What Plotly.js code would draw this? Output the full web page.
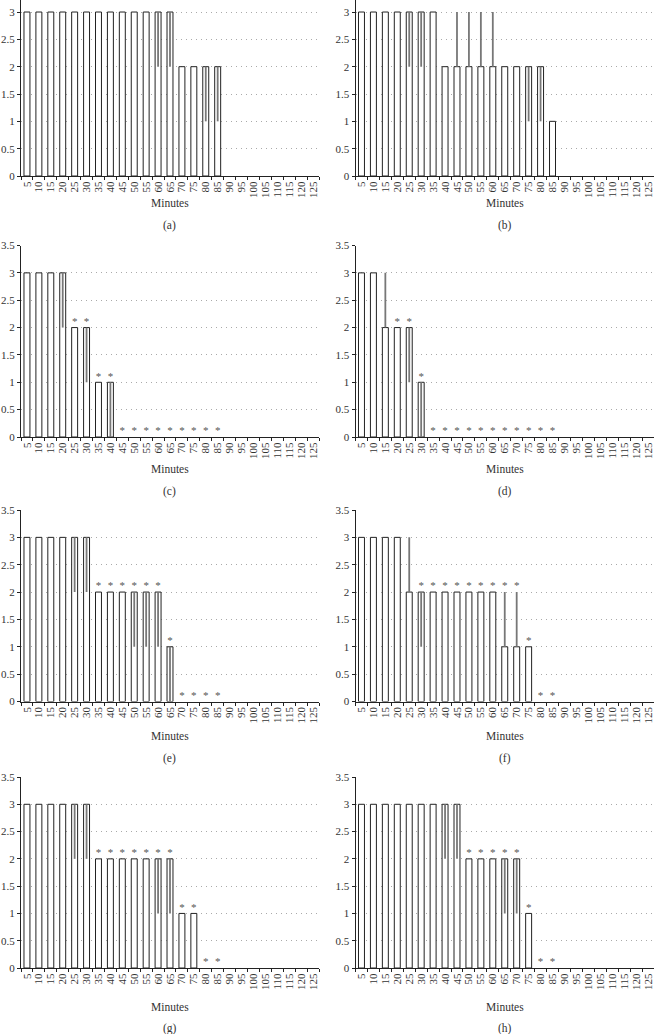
<!DOCTYPE html>
<html>
<head>
<meta charset="utf-8">
<script src="https://cdn.plot.ly/plotly-3.0.1.min.js"></script>
<style>html,body{margin:0;padding:0;background:#fff;}#chart{width:654px;height:1034px;}</style>
</head>
<body>
<div id="chart"></div>
<script>
// Categories (minutes)
const minutes = ['5','10','15','20','25','30','35','40','45','50','55','60','65','70','75','80','85','90','95','100','105','110','115','120','125'];
const yTicks = [0, 0.5, 1, 1.5, 2, 2.5, 3, 3.5];
const panelLabels = ['(a)','(b)','(c)','(d)','(e)','(f)','(g)','(h)'];

// Panel (a)
const valsA  = [3,3,3,3,3,3,3,3,3,3,3,3,3,2,2,2,2,0,0,0,0,0,0,0,0];
const plusA  = [0,0,0,0,0,0,0,0,0,0,0,0,0,0,0,0,0,0,0,0,0,0,0,0,0];
const minusA = [0,0,0,0,0,0,0,0,0,0,0,1,1,0,0,1,1,0,0,0,0,0,0,0,0];
const starA  = [0,0,0,0,0,0,0,0,0,0,0,0,0,0,0,0,0,0,0,0,0,0,0,0,0];
// Panel (b)
const valsB  = [3,3,3,3,3,3,3,2,2,2,2,2,2,2,2,2,1,0,0,0,0,0,0,0,0];
const plusB  = [0,0,0,0,0,0,0,0,1,1,1,1,0,0,0,0,0,0,0,0,0,0,0,0,0];
const minusB = [0,0,0,0,1,1,0,0,0,0,0,0,0,0,1,1,0,0,0,0,0,0,0,0,0];
const starB  = [0,0,0,0,0,0,0,0,0,0,0,0,0,0,0,0,0,0,0,0,0,0,0,0,0];
// Panel (c)
const valsC  = [3,3,3,3,2,2,1,1,0,0,0,0,0,0,0,0,0,0,0,0,0,0,0,0,0];
const plusC  = [0,0,0,0,0,0,0,0,0,0,0,0,0,0,0,0,0,0,0,0,0,0,0,0,0];
const minusC = [0,0,0,1,0,1,0,1,0,0,0,0,0,0,0,0,0,0,0,0,0,0,0,0,0];
const starC  = [0,0,0,0,1,1,1,1,1,1,1,1,1,1,1,1,1,0,0,0,0,0,0,0,0];
// Panel (d)
const valsD  = [3,3,2,2,2,1,0,0,0,0,0,0,0,0,0,0,0,0,0,0,0,0,0,0,0];
const plusD  = [0,0,1,0,0,0,0,0,0,0,0,0,0,0,0,0,0,0,0,0,0,0,0,0,0];
const minusD = [0,0,0,0,1,1,0,0,0,0,0,0,0,0,0,0,0,0,0,0,0,0,0,0,0];
const starD  = [0,0,0,1,1,1,1,1,1,1,1,1,1,1,1,1,1,0,0,0,0,0,0,0,0];
// Panel (e)
const valsE  = [3,3,3,3,3,3,2,2,2,2,2,2,1,0,0,0,0,0,0,0,0,0,0,0,0];
const plusE  = [0,0,0,0,0,0,0,0,0,0,0,0,0,0,0,0,0,0,0,0,0,0,0,0,0];
const minusE = [0,0,0,0,1,1,0,0,0,1,1,1,1,0,0,0,0,0,0,0,0,0,0,0,0];
const starE  = [0,0,0,0,0,0,1,1,1,1,1,1,1,1,1,1,1,0,0,0,0,0,0,0,0];
// Panel (f)
const valsF  = [3,3,3,3,2,2,2,2,2,2,2,2,1,1,1,0,0,0,0,0,0,0,0,0,0];
const plusF  = [0,0,0,0,1,0,0,0,0,0,0,0,1,1,0,0,0,0,0,0,0,0,0,0,0];
const minusF = [0,0,0,0,0,1,0,0,0,0,0,0,0,0,0,0,0,0,0,0,0,0,0,0,0];
const starF  = [0,0,0,0,0,1,1,1,1,1,1,1,1,1,1,1,1,0,0,0,0,0,0,0,0];
// Panel (g)
const valsG  = [3,3,3,3,3,3,2,2,2,2,2,2,2,1,1,0,0,0,0,0,0,0,0,0,0];
const plusG  = [0,0,0,0,0,0,0,0,0,0,0,0,0,0,0,0,0,0,0,0,0,0,0,0,0];
const minusG = [0,0,0,0,1,1,0,0,0,0,0,1,1,0,0,0,0,0,0,0,0,0,0,0,0];
const starG  = [0,0,0,0,0,0,1,1,1,1,1,1,1,1,1,1,1,0,0,0,0,0,0,0,0];
// Panel (h)
const valsH  = [3,3,3,3,3,3,3,3,3,2,2,2,2,2,1,0,0,0,0,0,0,0,0,0,0];
const plusH  = [0,0,0,0,0,0,0,0,0,0,0,0,0,0,0,0,0,0,0,0,0,0,0,0,0];
const minusH = [0,0,0,0,0,0,0,1,1,0,0,0,1,1,0,0,0,0,0,0,0,0,0,0,0];
const starH  = [0,0,0,0,0,0,0,0,0,1,1,1,1,1,1,1,1,0,0,0,0,0,0,0,0];

const panels = [
  [valsA, plusA, minusA, starA],
  [valsB, plusB, minusB, starB],
  [valsC, plusC, minusC, starC],
  [valsD, plusD, minusD, starD],
  [valsE, plusE, minusE, starE],
  [valsF, plusF, minusF, starF],
  [valsG, plusG, minusG, starG],
  [valsH, plusH, minusH, starH]
];

const W = 654, H = 1034;
const SERIF = 'Liberation Serif, Times New Roman, serif';
const TXT = '#333';
// pixel layout of plot areas
const colX = [[21, 319], [355.5, 654]];
const rowY = [[0, 176], [245.5, 437], [510, 701.5], [777, 968]];
const rowTop = [3.22, 3.5, 3.5, 3.5];
const titleY = [[203, 225], [468.5, 491.5], [735.5, 758], [1007, 1028]];

const traces = [];
const layout = {
  width: W, height: H,
  margin: {l: 0, r: 0, t: 0, b: 0},
  paper_bgcolor: '#fff', plot_bgcolor: '#fff',
  showlegend: false,
  font: {family: SERIF, color: TXT, size: 10},
  annotations: []
};

panels.forEach((p, i) => {
  const [vals, plus, minus, star] = p;
  const row = Math.floor(i / 2), col = i % 2;
  const n = i + 1;
  const xa = 'x' + (n === 1 ? '' : n), ya = 'y' + (n === 1 ? '' : n);
  traces.push({
    type: 'bar', x: minutes, y: vals, xaxis: xa, yaxis: ya,
    marker: {color: '#fff', line: {color: '#222', width: vals.map(v => v > 0 ? 1 : 0)}},
    error_y: {type: 'data', symmetric: false, array: plus, arrayminus: minus,
              width: 0, thickness: 1.8, color: '#777'},
    hoverinfo: 'skip'
  });
  const sx = [], sy = [];
  star.forEach((s, k) => { if (s) { sx.push(minutes[k]); sy.push(vals[k] + plus[k]); } });
  traces.push({
    type: 'scatter', mode: 'text', x: sx, y: sy, text: sx.map(() => '*'),
    textposition: 'top center', textfont: {family: SERIF, size: 11, color: '#555'},
    xaxis: xa, yaxis: ya, cliponaxis: false, hoverinfo: 'skip'
  });
  const xd = [colX[col][0] / W, colX[col][1] / W];
  const yd = [1 - rowY[row][1] / H, 1 - rowY[row][0] / H];
  layout['xaxis' + (n === 1 ? '' : n)] = {
    domain: xd, anchor: ya, type: 'category', range: [-0.5, 24.5],
    tickmode: 'linear', dtick: 1, tick0: 0,
    tickangle: -90, tickson: 'boundaries', ticks: 'outside', ticklen: 3, tickcolor: '#222',
    showline: true, linecolor: '#222', linewidth: 1, showgrid: false,
    tickfont: {family: SERIF, size: 11, color: TXT}, fixedrange: true
  };
  layout['yaxis' + (n === 1 ? '' : n)] = {
    domain: yd, anchor: xa, range: [0, rowTop[row]],
    tickvals: yTicks, ticks: 'outside', ticklen: 3, tickcolor: '#222',
    showline: true, linecolor: '#222', linewidth: 1,
    showgrid: true, gridcolor: '#aaa', griddash: '1px,4px', gridwidth: 1,
    zeroline: false, tickfont: {family: SERIF, size: 11, color: TXT}, fixedrange: true
  };
  const cx = (colX[col][0] + colX[col][1]) / 2 / W;
  layout.annotations.push({
    text: 'Minutes', xref: 'paper', yref: 'paper', x: cx, y: 1 - titleY[row][0] / H,
    xanchor: 'center', yanchor: 'middle', showarrow: false,
    font: {family: SERIF, size: 11.5, color: TXT}
  });
  layout.annotations.push({
    text: panelLabels[i], xref: 'paper', yref: 'paper', x: cx, y: 1 - titleY[row][1] / H,
    xanchor: 'center', yanchor: 'middle', showarrow: false,
    font: {family: SERIF, size: 11.5, color: TXT}
  });
});

layout.bargap = 0.5;
Plotly.newPlot('chart', traces, layout, {displayModeBar: false, staticPlot: true});
</script>
</body>
</html>
